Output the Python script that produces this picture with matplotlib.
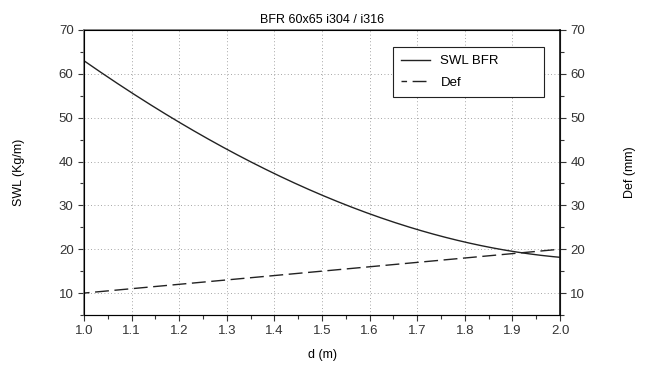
import numpy as np
import matplotlib
matplotlib.use("Agg")
import matplotlib.pyplot as plt
from matplotlib.ticker import MultipleLocator

plt.rcParams["font.family"] = ["Liberation Sans", "DejaVu Sans"]
plt.rcParams["font.size"] = 9

# values
d = [1.0, 1.1, 1.2, 1.3, 1.4, 1.5, 1.6, 1.7, 1.8, 1.9, 2.0]
swl = [63.0, 55.6, 49.1, 42.7, 37.4, 32.2, 28.1, 24.4, 21.7, 19.6, 18.1]
defl = [10.0, 11.0, 12.0, 13.0, 14.0, 15.0, 16.0, 17.0, 18.0, 19.0, 20.0]
title = "BFR 60x65 i304 / i316"

fig = plt.figure(figsize=(6.48, 3.71), dpi=100)
ax = fig.add_axes([84 / 648, 56 / 371, 476 / 648, 285 / 371])

# smooth curve through the read points
coef = np.polyfit(d, swl, 3)
dd = np.linspace(1.0, 2.0, 200)
ax.plot(dd, np.polyval(coef, dd), color="#222222", lw=1.0, label="SWL BFR")
ax.plot(d, defl, color="#222222", lw=1.0, ls=(6, (10, 4)), label="Def")

ax.set_xlim(1.0, 2.0)
ax.set_ylim(5, 70)
ax.xaxis.set_major_locator(MultipleLocator(0.1))
ax.xaxis.set_minor_locator(MultipleLocator(0.05))
ax.set_yticks([10, 20, 30, 40, 50, 60, 70])
ax.yaxis.set_minor_locator(MultipleLocator(5))
ax.xaxis.set_major_formatter(plt.FormatStrFormatter("%.1f"))
ax.tick_params(which="both", direction="out", length=4, width=0.8, labelsize=9.5,
               colors="#333333")
ax.tick_params(which="minor", length=3)
ax.grid(True, which="major", ls=(0, (1, 3)), color="#888888", lw=0.6)

for side in ["left", "top"]:
    ax.spines[side].set_color("#777777")
    ax.spines[side].set_linewidth(1.2)
ax.spines["bottom"].set_color("#333333")
ax.spines["right"].set_color("#111111")

ax.set_xlabel("d (m)", fontsize=9, labelpad=8)
ax.set_ylabel("SWL (Kg/m)", fontsize=9, labelpad=24)
ax.set_title(title, fontsize=9, pad=5)

ax2 = ax.twinx()
ax2.set_ylim(5, 70)
ax2.set_yticks([10, 20, 30, 40, 50, 60, 70])
ax2.yaxis.set_minor_locator(MultipleLocator(5))
ax2.tick_params(which="both", direction="out", length=4, width=0.8, labelsize=9.5,
                colors="#333333")
ax2.tick_params(which="minor", length=3)
ax2.spines["right"].set_color("#111111")
ax2.spines["right"].set_linewidth(1.2)
ax2.set_ylabel("Def (mm)", fontsize=9, labelpad=28)

leg = ax.legend(loc="upper left", bbox_to_anchor=(0.649, 0.60, 0.317, 0.34),
                mode="expand", borderaxespad=0, fancybox=False, framealpha=1,
                edgecolor="#222222", fontsize=9.5, handlelength=2.2,
                borderpad=0.6, labelspacing=0.7)
leg.get_frame().set_linewidth(0.8)

fig.savefig("out.png", dpi=100)
